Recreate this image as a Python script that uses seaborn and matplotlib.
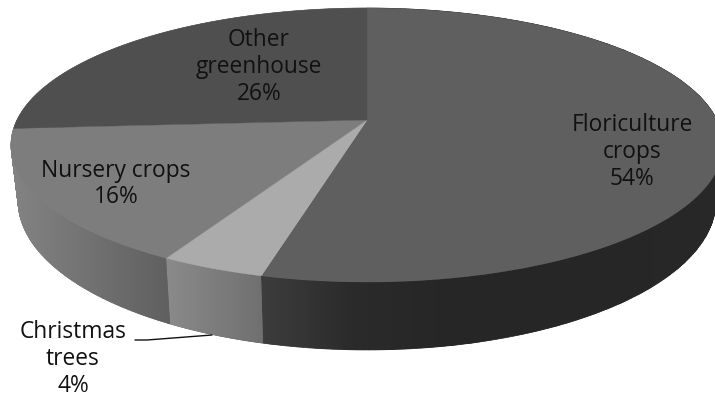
import numpy as np
import matplotlib
matplotlib.use("Agg")
import matplotlib.pyplot as plt
from matplotlib.colors import Normalize
from matplotlib.patches import PathPatch
from matplotlib.path import Path
import seaborn as sns

# Share of greenhouse and nursery sales, clockwise from twelve o'clock
categories = ["Floriculture\ncrops", "Christmas\ntrees", "Nursery crops", "Other\ngreenhouse"]
shares = [54, 4, 16, 26]

top_colors = ["#5f5f5f", "#ababab", "#7d7d7d", "#4f4f4f"]
# Rim shading for each slice, listed from its left end to its right end
side_ramps = [
    ["#3c3c3c", "#2a2a2a", "#262626", "#262626", "#262626", "#282828"],
    ["#8a8a8a", "#6f6f6f"],
    ["#838383", "#5f5f5f"],
    ["#7f7f7f", "#7f7f7f"],
]
label_xy = [(632, 152), (73, 359), (116, 184), (259, 67)]

sns.set_theme(style="white")
plt.rcParams["font.family"] = ["Open Sans", "DejaVu Sans"]

fig, ax = plt.subplots(figsize=(7.15, 3.99), dpi=100)
ax.set_position([0, 0, 1, 1])
sns.despine(ax=ax, left=True, bottom=True)


def project(theta, cx, cy, a, b, k=0.1825):
    """Tilted disc: theta runs clockwise from the top, the far side is foreshortened."""
    x, y = np.sin(theta), np.cos(theta)
    w = 1 + k * y
    return cx + a * x / w, cy - b * y / w


def top_rim(theta):
    return project(theta, 367, 120, 350, 132.4)


def bottom_rim(theta):
    return project(theta, 367, 173.8, 343, 144)


edges = np.cumsum([0] + shares) / sum(shares) * 2 * np.pi
spans = list(zip(edges[:-1], edges[1:]))

# Rim of the disc: narrow quads fill the whole band, then a smooth gradient goes over them
for (start, stop), ramp in zip(spans, side_ramps):
    t = np.linspace(start, stop, 240)
    xt, yt = top_rim(t)
    xb, yb = bottom_rim(t)
    xs, ys = np.r_[xt, xb[::-1]], np.r_[yt, yb[::-1]]
    cmap = sns.blend_palette(ramp, as_cmap=True)
    norm = Normalize(xs.min(), xs.max())
    for i in range(0, len(t) - 1):
        qx = [xt[i], xt[i + 1], xb[i + 1], xb[i]]
        qy = [yt[i], yt[i + 1], yb[i + 1], yb[i]]
        ax.fill(qx, qy, color=cmap(norm(np.mean(qx))), lw=0.5, zorder=1)
    outline = PathPatch(Path(np.c_[xs, ys]), transform=ax.transData, fc="none", ec="none")
    ax.add_patch(outline)
    cols = np.linspace(xs.min(), xs.max(), 200)
    rows = np.array([ys.min(), ys.max()])
    mesh = ax.pcolormesh(cols, rows, cols[:-1][None, :], cmap=cmap, norm=norm, shading="flat",
                         rasterized=True, zorder=1.1, antialiased=False)
    mesh.set_clip_path(outline)

# Upper faces of the slices
for (start, stop), color in zip(spans, top_colors):
    t = np.linspace(start, stop, 240)
    xr, yr = top_rim(t)
    ax.fill(np.r_[367, xr], np.r_[120, yr], color=color, lw=0.3, zorder=2)

for text, (x, y), share in zip(categories, label_xy, shares):
    ax.text(x, y, f"{text}\n{share}%", ha="center", va="center", fontsize=16.4,
            color="#111111", linespacing=1.15, zorder=3)

# Leader for the slice whose label sits outside the disc
ax.plot([135, 147, 212], [340, 340, 335], color="#111111", lw=1.0, zorder=3)

ax.set_xlim(0, 715)
ax.set_ylim(399, 0)
ax.set_axis_off()

fig.savefig("out.png", dpi=100, facecolor="white")
